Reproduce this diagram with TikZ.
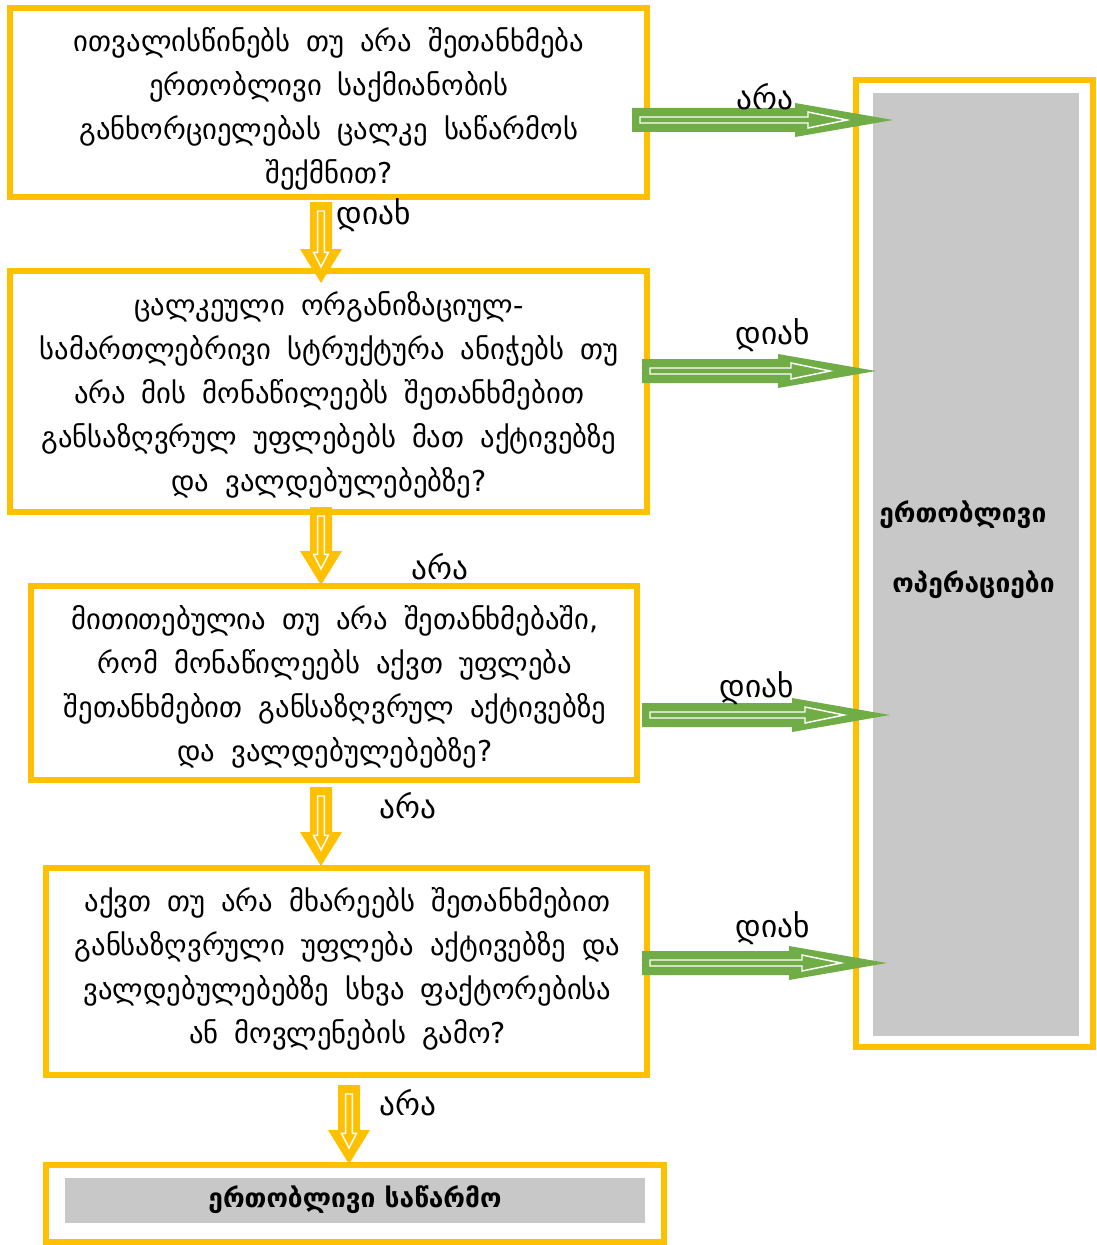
\documentclass[tikz,border=0pt]{standalone}
\usepackage{fontspec}
\setmainfont{DejaVu Sans}
\usetikzlibrary{calc}
\definecolor{yel}{HTML}{FFC000}
\definecolor{grn}{HTML}{70AD47}
\definecolor{gry}{HTML}{C8C8C8}
\newcommand{\txtfont}{\fontsize{21.5}{33}\selectfont\spaceskip=12pt\relax}
\newcommand{\yarrow}[2]{%
  \fill[yel] let \p1=(#1), \p2=(#2) in
    ({\x1-8.25pt},\y1) -- ({\x1-8.25pt},{\y2+25.5pt}) -- ({\x1-15.75pt},{\y2+25.5pt}) -- (\x1,\y2)
    -- ({\x1+15.75pt},{\y2+25.5pt}) -- ({\x1+8.25pt},{\y2+25.5pt}) -- ({\x1+8.25pt},\y1) -- cycle;
  \draw[white,line width=1.1pt,line join=miter] let \p1=(#1), \p2=(#2) in
    ({\x1-2.6pt},{\y1-6.75pt}) -- ({\x1-2.6pt},{\y2+23pt}) -- ({\x1-5.6pt},{\y2+23pt}) -- (\x1,{\y2+12pt})
    -- ({\x1+5.6pt},{\y2+23pt}) -- ({\x1+2.6pt},{\y2+23pt}) -- ({\x1+2.6pt},{\y1-6.75pt}) -- cycle;}
\newcommand{\garrow}[2]{%
  \fill[grn] let \p1=(#1), \p2=(#2) in
    (\x1,{\y1+9pt}) -- ({\x2-73.5pt},{\y1+9pt}) -- ({\x2-73.5pt},{\y1+12.75pt}) -- (\x2,\y1)
    -- ({\x2-73.5pt},{\y1-12.75pt}) -- ({\x2-73.5pt},{\y1-9pt}) -- (\x1,{\y1-9pt}) -- cycle;
  \draw[white,line width=1.1pt,line join=miter] let \p1=(#1), \p2=(#2) in
    ({\x1+6pt},{\y1+2.25pt}) -- ({\x2-63.75pt},{\y1+2.25pt}) -- ({\x2-63.75pt},{\y1+6pt}) -- ({\x2-34.5pt},\y1)
    -- ({\x2-63.75pt},{\y1-6pt}) -- ({\x2-63.75pt},{\y1-2.25pt}) -- ({\x1+6pt},{\y1-2.25pt}) -- cycle;}
\tikzset{
  box/.style={draw=yel,line width=4.5pt,inner sep=0pt},
  graybox/.style={fill=gry,inner sep=0pt},
  txt/.style={align=center,font=\txtfont,inner sep=0pt},
  lbl/.style={font=\fontsize{23.5}{26}\selectfont,inner sep=0pt},
  bold/.style={font=\fontsize{19.75}{22}\selectfont\bfseries,inner sep=0pt},
}
\begin{document}
\begin{tikzpicture}[x=0.75pt,y=-0.75pt]
\useasboundingbox (0,0) rectangle (1096,1245);
% texts
\node[txt] (t1) at (329,109) {ითვალისწინებს თუ არა შეთანხმება\\ერთობლივი საქმიანობის\\განხორციელებას ცალკე საწარმოს\\შექმნით?};
\node[txt] (t2) at (329,394.5) {ცალკეული ორგანიზაციულ-\\სამართლებრივი სტრუქტურა ანიჭებს თუ\\არა მის მონაწილეებს შეთანხმებით\\განსაზღვრულ უფლებებს მათ აქტივებზე\\და ვალდებულებებზე?};
\node[txt] (t3) at (335,686.5) {მითითებულია თუ არა შეთანხმებაში,\\რომ მონაწილეებს აქვთ უფლება\\შეთანხმებით განსაზღვრულ აქტივებზე\\და ვალდებულებებზე?};
\node[txt] (t4) at (347.5,969) {აქვთ თუ არა მხარეებს შეთანხმებით\\განსაზღვრული უფლება აქტივებზე და\\ვალდებულებებზე სხვა ფაქტორებისა\\ან მოვლენების გამო?};
% boxes
\node[box,minimum width=477.75pt,minimum height=141.75pt] (b1) at (328.5,102.5) {};
\node[box,minimum width=477.75pt,minimum height=180.75pt] (b2) at (328.5,391.5) {};
\node[box,minimum width=454.5pt,minimum height=145.5pt] (b3) at (334,683) {};
\node[box,minimum width=450.75pt,minimum height=155.25pt] (b4) at (346.5,971.5) {};
\node[box,minimum width=463.5pt,minimum height=57.75pt] (b5) at (355,1203.5) {};
\node[graybox,minimum width=435pt,minimum height=33.75pt] (g5) at (355,1200.5) {};
\node[bold] (t5) at (355,1200) {ერთობლივი საწარმო};
\node[box,minimum width=177.75pt,minimum height=725.25pt] (b6) at (974.5,563.5) {};
\node[graybox,minimum width=154.5pt,minimum height=707.25pt] (g6) at (976,564.5) {};
\node[bold,anchor=west] (t6a) at (879,515) {ერთობლივი};
\node[bold,anchor=west] (t6b) at (892,585) {ოპერაციები};
% down arrows
\coordinate (d1s) at (321,202); \coordinate (d1e) at (321,283);
\coordinate (d2s) at (321,507); \coordinate (d2e) at (321,585);
\coordinate (d3s) at (321,787); \coordinate (d3e) at (321,866);
\coordinate (d4s) at (349,1085); \coordinate (d4e) at (349,1164);
\yarrow{d1s}{d1e}
\yarrow{d2s}{d2e}
\yarrow{d3s}{d3e}
\yarrow{d4s}{d4e}
% green arrows
\coordinate (r1s) at (632,120); \coordinate (r1e) at (893,120);
\coordinate (r2s) at (642,371); \coordinate (r2e) at (876,371);
\coordinate (r3s) at (642,715); \coordinate (r3e) at (890,715);
\coordinate (r4s) at (642,963); \coordinate (r4e) at (887,963);
\garrow{r1s}{r1e}
\garrow{r2s}{r2e}
\garrow{r3s}{r3e}
\garrow{r4s}{r4e}
% labels
\node[lbl] (l1) at (765,97) {არა};
\node[lbl] (l2) at (773,335) {დიახ};
\node[lbl] (l3) at (757,688) {დიახ};
\node[lbl] (l4) at (773,928) {დიახ};
\node[lbl] (l5) at (374,215) {დიახ};
\node[lbl] (l6) at (440,567) {არა};
\node[lbl] (l7) at (408,806) {არა};
\node[lbl] (l8) at (408,1103) {არა};
\end{tikzpicture}
\end{document}
